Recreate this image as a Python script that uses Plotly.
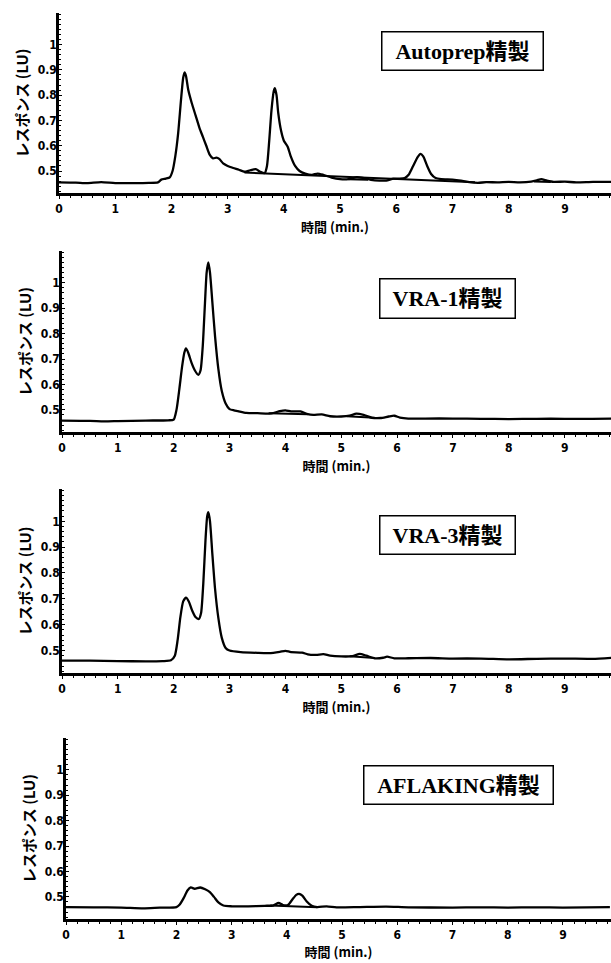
import plotly.graph_objects as go

# ---------------- data ----------------
t1 = [0, 0.3, 0.5, 0.75, 1.0, 1.3, 1.6, 1.76, 1.82, 1.9, 1.97, 2.02, 2.07, 2.12, 2.17, 2.21, 2.235, 2.26, 2.3, 2.36,
      2.43, 2.5, 2.56, 2.62, 2.68, 2.74, 2.8, 2.85, 2.92, 3.0, 3.1, 3.2, 3.3, 3.4, 3.5, 3.58, 3.66, 3.7, 3.74, 3.78,
      3.82, 3.84, 3.87, 3.9, 3.95, 4.0, 4.07, 4.12, 4.2, 4.28, 4.38, 4.5, 4.6, 4.7, 4.85, 5.0, 5.15, 5.3, 5.4, 5.55,
      5.7, 5.82, 5.95, 6.05, 6.15, 6.22, 6.3, 6.38, 6.43, 6.48, 6.55, 6.62, 6.7, 6.8, 7.0, 7.15, 7.3, 7.45, 7.6, 7.8,
      8.0, 8.2, 8.4, 8.5, 8.58, 8.68, 8.8, 9.0, 9.2, 9.5, 9.85]
v1 = [0.455, 0.454, 0.452, 0.456, 0.452, 0.452, 0.453, 0.455, 0.466, 0.47, 0.475, 0.5, 0.56, 0.65, 0.78, 0.87, 0.89,
      0.875, 0.82, 0.77, 0.72, 0.67, 0.635, 0.6, 0.565, 0.55, 0.553, 0.548, 0.53, 0.52, 0.512, 0.505, 0.497, 0.503,
      0.507, 0.497, 0.492, 0.52, 0.62, 0.74, 0.815, 0.828, 0.8, 0.73, 0.66, 0.62, 0.595, 0.56, 0.52, 0.5, 0.49,
      0.485, 0.49, 0.485, 0.474, 0.468, 0.468, 0.476, 0.473, 0.465, 0.462, 0.462, 0.47, 0.47, 0.472, 0.485, 0.52,
      0.555, 0.568, 0.558, 0.52, 0.488, 0.472, 0.468, 0.466, 0.462, 0.456, 0.453, 0.456, 0.455, 0.457, 0.455, 0.458,
      0.463, 0.468, 0.462, 0.457, 0.458, 0.455, 0.457, 0.457]
base1 = [([3.3, 7.4], [0.494, 0.456]), ([5.15, 5.5], [0.467, 0.465]), ([8.45, 8.75], [0.458, 0.457])]

t2 = [0, 0.5, 0.75, 1.0, 1.5, 1.9, 2.0, 2.05, 2.1, 2.15, 2.19, 2.22, 2.26, 2.32, 2.38, 2.44, 2.48, 2.52, 2.56, 2.59,
      2.62, 2.65, 2.69, 2.74, 2.8, 2.86, 2.93, 3.0, 3.08, 3.15, 3.3, 3.5, 3.75, 3.9, 4.0, 4.1, 4.27, 4.4, 4.5, 4.65,
      4.8, 5.0, 5.15, 5.27, 5.4, 5.55, 5.7, 5.85, 5.95, 6.05, 6.2, 6.5, 7.0, 7.5, 8.0, 8.5, 9.0, 9.5, 9.85]
v2 = [0.458, 0.457, 0.455, 0.456, 0.458, 0.459, 0.462, 0.5, 0.58, 0.67, 0.725, 0.742, 0.725, 0.685, 0.655, 0.638,
      0.655, 0.75, 0.92, 1.04, 1.08, 1.04, 0.93, 0.79, 0.66, 0.575, 0.525, 0.503, 0.498, 0.495, 0.488, 0.487, 0.486,
      0.495, 0.498, 0.494, 0.494, 0.483, 0.48, 0.482, 0.475, 0.474, 0.477, 0.485, 0.48, 0.469, 0.468, 0.474, 0.477,
      0.47, 0.466, 0.466, 0.466, 0.465, 0.464, 0.465, 0.465, 0.465, 0.466]
base2 = [([3.7, 4.4], [0.487, 0.483]), ([5.1, 5.6], [0.475, 0.469])]

t3 = [0, 0.5, 1.0, 1.5, 1.8, 1.95, 2.02, 2.07, 2.12, 2.17, 2.22, 2.27, 2.33, 2.39, 2.45, 2.49, 2.53, 2.57, 2.6, 2.62,
      2.65, 2.69, 2.74, 2.8, 2.86, 2.93, 3.0, 3.2, 3.5, 3.7, 3.9, 4.0, 4.1, 4.3, 4.4, 4.55, 4.68, 4.8, 5.0, 5.2, 5.33,
      5.45, 5.6, 5.75, 5.82, 5.95, 6.2, 6.6, 7.0, 7.5, 8.0, 8.5, 9.0, 9.5, 9.85]
v3 = [0.461, 0.461, 0.459, 0.458, 0.459, 0.462, 0.48, 0.54, 0.63, 0.69, 0.705, 0.69, 0.655, 0.63, 0.622, 0.645,
      0.76, 0.93, 1.02, 1.035, 1.0, 0.88, 0.74, 0.625, 0.55, 0.51, 0.5, 0.494, 0.491, 0.49, 0.495, 0.499, 0.494,
      0.492, 0.485, 0.483, 0.486, 0.48, 0.477, 0.478, 0.487, 0.48, 0.47, 0.472, 0.476, 0.47, 0.47, 0.471, 0.469,
      0.469, 0.466, 0.468, 0.469, 0.468, 0.472]
base3 = [([5.15, 5.6], [0.478, 0.471])]

t4 = [0, 0.5, 1.0, 1.4, 1.7, 2.0, 2.06, 2.13, 2.2, 2.26, 2.33, 2.43, 2.52, 2.6, 2.68, 2.76, 2.85, 3.0, 3.3, 3.6,
      3.75, 3.85, 3.93, 4.02, 4.1, 4.17, 4.22, 4.28, 4.36, 4.45, 4.55, 4.72, 4.9, 5.3, 5.8, 6.2, 7.0, 7.5, 8.0, 8.5,
      9.0, 9.85]
v4 = [0.46, 0.459, 0.458, 0.455, 0.458, 0.46, 0.47, 0.495, 0.525, 0.537, 0.532, 0.537, 0.53, 0.52, 0.5, 0.478,
      0.466, 0.463, 0.463, 0.465, 0.466, 0.476, 0.468, 0.468, 0.49, 0.508, 0.512, 0.505, 0.482, 0.465, 0.46, 0.463,
      0.459, 0.46, 0.462, 0.459, 0.458, 0.459, 0.458, 0.459, 0.458, 0.46]
base4 = [([3.7, 4.55], [0.466, 0.459])]

labels = ["Autoprep精製", "VRA-1精製", "VRA-3精製", "AFLAKING精製"]
x_ticks = [0, 1, 2, 3, 4, 5, 6, 7, 8, 9]
y_ticks = [0.5, 0.6, 0.7, 0.8, 0.9, 1.0]
y_ticktext = ["0.5", "0.6", "0.7", "0.8", "0.9", "1"]
x_title = "時間 (min.)"
y_title = "レスポンス (LU)"

series = [(t1, v1, base1), (t2, v2, base2), (t3, v3, base3), (t4, v4, base4)]

# ---------------- layout geometry (pixels) ----------------
W, H = 611, 963
panels = [  # left px, top px, bottom px, xmax, x-title standoff
    (59, 13, 193, 9.82, 8),
    (62, 251, 432, 9.83, 8),
    (62, 489, 673, 9.83, 8),
    (66, 738, 919, 9.87, 6),
]
boxes = [  # centre x, centre y, width, height (px)
    (462, 51, 158, 35),
    (447, 298, 132, 36),
    (447, 535, 132, 35),
    (459, 785, 186, 35),
]

fig = go.Figure()
tick_font = dict(family="DejaVu Sans Condensed, DejaVu Sans", size=12, color="black", weight="bold")
title_font_y = dict(family="Noto Sans CJK JP", size=15, color="black", weight="bold")
title_font_x = dict(family="Noto Sans CJK JP", size=13, color="black", weight="bold")

for i, (t, v, bases) in enumerate(series):
    n = "" if i == 0 else str(i + 1)
    xa, ya = "x" + n, "y" + n
    fig.add_trace(go.Scatter(x=t, y=v, mode="lines", xaxis=xa, yaxis=ya,
                             line=dict(color="black", width=2.3, shape="spline", smoothing=0.6),
                             showlegend=False, hoverinfo="skip"))
    for bx, by in bases:
        fig.add_trace(go.Scatter(x=bx, y=by, mode="lines", xaxis=xa, yaxis=ya,
                                 line=dict(color="black", width=2), showlegend=False, hoverinfo="skip"))
    left, top, bottom, xmax, xstand = panels[i]
    ydom = [1 - bottom / H, 1 - top / H]
    xdom = [left / W, 1.0]
    fig.update_layout(**{
        "xaxis" + n: dict(domain=xdom, anchor=ya, range=[0, xmax], tickvals=x_ticks, automargin=False,
                          ticks="outside", ticklen=3, tickwidth=1, tickcolor="black",
                          showline=True, linecolor="black", linewidth=2.5, showgrid=False, zeroline=False,
                          tickfont=tick_font,
                          minor=dict(dtick=0.2, ticks="outside", ticklen=2, tickcolor="black", showgrid=False),
                          title=dict(text=x_title, font=title_font_x, standoff=xstand)),
        "yaxis" + n: dict(domain=ydom, anchor=xa, range=[0.413, 1.125], tickvals=y_ticks, ticktext=y_ticktext,
                          automargin=False,
                          ticks="inside", ticklen=3, tickwidth=1, tickcolor="black",
                          showline=True, linecolor="black", linewidth=2.5, showgrid=False, zeroline=False,
                          tickfont=tick_font, ticklabelstandoff=-3,
                          minor=dict(dtick=0.02, ticks="inside", ticklen=2, tickcolor="black", showgrid=False),
                          title=dict(text=y_title, font=title_font_y, standoff=6)),
    })
    cx, cy, bw, bh = boxes[i]
    fig.add_annotation(xref="paper", yref="paper", x=cx / W, y=1 - cy / H, xanchor="center", yanchor="middle",
                       text=labels[i], showarrow=False, width=bw, height=bh, borderpad=1,
                       bordercolor="black", borderwidth=1.5, bgcolor="white",
                       font=dict(family="Liberation Serif, Times New Roman, Noto Sans CJK JP", size=22,
                                 color="black", weight="bold"))

fig.update_layout(width=W, height=H, margin=dict(l=0, r=0, t=0, b=0), template="none",
                  paper_bgcolor="white", plot_bgcolor="white")
fig.write_html("out.html", config={"displayModeBar": False},
               post_script="document.body.style.margin='0';document.body.style.overflow='hidden';")
